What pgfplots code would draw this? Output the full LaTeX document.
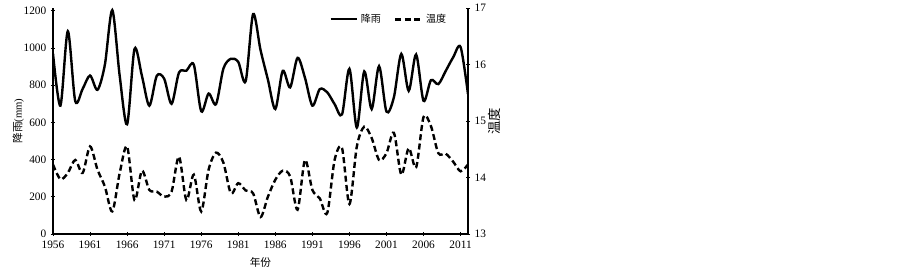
\documentclass[border=0pt]{standalone}
\usepackage{pgfplots}
\usepackage{pgfplotstable}
\pgfplotsset{compat=1.18}
\usepackage{fontspec}
\setmainfont{Liberation Serif}
\newfontfamily\cjk{Noto Sans CJK SC}
\pgfplotstableread{
year rain temp
1956 970 14.23
1957 690 13.97
1958 1090 14.08
1959 715 14.31
1960 780 14.08
1961 852 14.55
1962 775 14.14
1963 910 13.84
1964 1203 13.40
1965 850 14.08
1966 590 14.55
1967 995 13.60
1968 850 14.12
1969 690 13.78
1970 850 13.75
1971 835 13.66
1972 700 13.75
1973 868 14.37
1974 878 13.60
1975 910 14.05
1976 660 13.40
1977 755 14.14
1978 698 14.44
1979 890 14.26
1980 942 13.72
1981 925 13.90
1982 822 13.77
1983 1182 13.72
1984 990 13.30
1985 830 13.66
1986 672 13.96
1987 877 14.12
1988 788 14.02
1989 947 13.43
1990 840 14.31
1991 690 13.78
1992 779 13.63
1993 762 13.37
1994 698 14.31
1995 643 14.52
1996 888 13.53
1997 572 14.55
1998 874 14.90
1999 672 14.70
2000 902 14.31
2001 658 14.43
2002 735 14.79
2003 968 14.05
2004 770 14.52
2005 965 14.18
2006 716 15.07
2007 827 14.91
2008 806 14.43
2009 877 14.42
2010 950 14.28
2011 1005 14.11
2012 752 14.23
}\datatable
\begin{document}
\begin{tikzpicture}
\path[use as bounding box] (-39.75pt,-27.75pt) rectangle (637.5pt,175.5pt);
\pgfplotsset{
  common/.style={
    scale only axis, width=311.25pt, height=169.5pt,
    at={(0pt,0pt)}, anchor=south west,
    xmin=1956, xmax=2012,
    tick align=outside, major tick length=3pt,
    tick style={black, line width=0.6pt},
    axis line style={black, line width=0.8pt},
    /pgf/number format/assume math mode=true,
    /pgf/number format/1000 sep={},
    tick label style={font=\fontsize{8.5}{10}\selectfont},
    label style={font=\fontsize{8}{10}\selectfont},
  }
}
\begin{axis}[common,
  axis x line=bottom, axis y line=left,
  axis line style={-},
  ymin=0, ymax=1215,
  ytick={0,200,400,600,800,1000,1200},
  xtick={1956,1961,1966,1971,1976,1981,1986,1991,1996,2001,2006,2011},
  xlabel={\cjk 年份}, ylabel={\cjk 降雨\rmfamily (mm)},
  xlabel style={yshift=0pt},
  ylabel style={yshift=-7pt},
]
\addplot[black, line width=1.8pt, smooth] table[x=year, y=rain] {\datatable};
\end{axis}
\begin{axis}[common,
  axis x line=none, axis y line=right,
  axis line style={-},
  ymin=13, ymax=17,
  ytick={13,14,15,16,17},
  ylabel={\cjk 温度},
  ylabel style={yshift=5pt},
  legend style={at={(0.81,0.95)}, anchor=center, draw=none, fill=none,
    legend columns=2, font=\cjk\fontsize{7.5}{9}\selectfont,
    /tikz/every even column/.append style={column sep=8pt}},
  legend image code/.code={\draw[#1] (0pt,0pt) -- (20pt,0pt);},
]
\addlegendimage{black, line width=1.5pt}
\addlegendentry{降雨}
\addplot[black, line width=1.8pt, smooth, dash pattern=on 4.5pt off 2.5pt] table[x=year, y=temp] {\datatable};
\addlegendentry{温度}
\end{axis}
\end{tikzpicture}
\end{document}
